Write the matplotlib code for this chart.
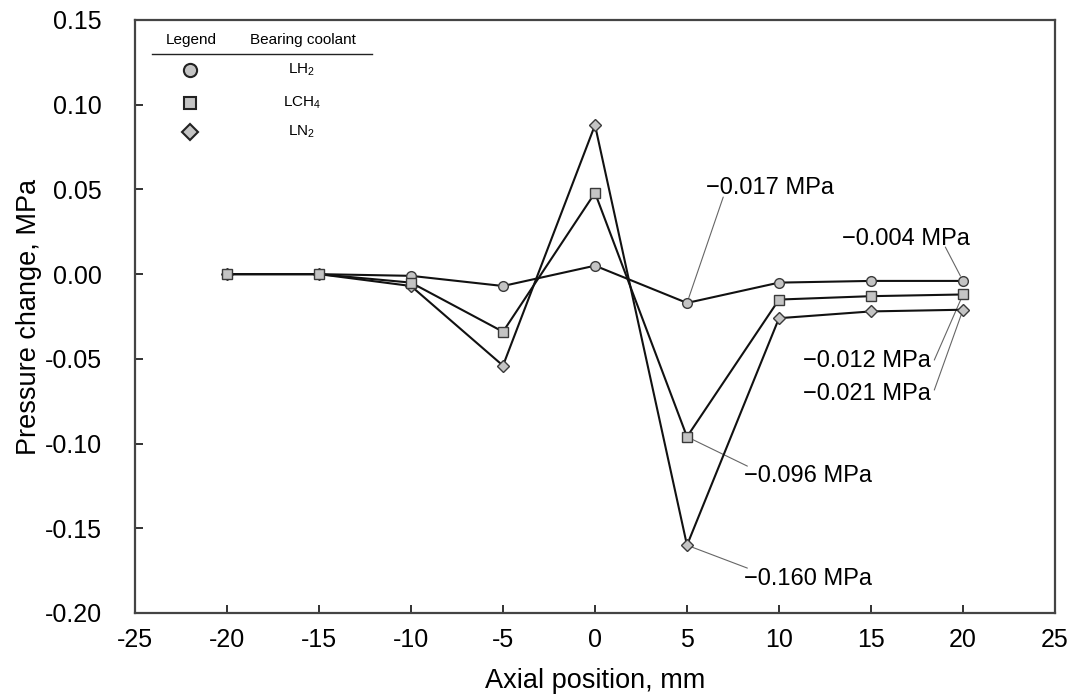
import matplotlib
matplotlib.use("Agg")
import matplotlib.pyplot as plt
from matplotlib.lines import Line2D

plt.rcParams['font.family'] = ['Liberation Sans', 'DejaVu Sans']
plt.rcParams['mathtext.fontset'] = 'custom'
plt.rcParams['mathtext.rm'] = 'Liberation Sans'
plt.rcParams['axes.unicode_minus'] = False

# Axial positions (mm) and pressure change (MPa) per bearing coolant
axial_mm = [-20, -15, -10, -5, 0, 5, 10, 15, 20]
lh2 = [0.000, 0.000, -0.001, -0.007, 0.005, -0.017, -0.005, -0.004, -0.004]
lch4 = [0.000, 0.000, -0.005, -0.034, 0.048, -0.096, -0.015, -0.013, -0.012]
ln2 = [0.000, 0.000, -0.007, -0.054, 0.088, -0.160, -0.026, -0.022, -0.021]

coolant_labels = [r'LH$_\mathregular{2}$', r'LCH$_\mathregular{4}$', r'LN$_\mathregular{2}$']
x_ticks = [-25, -20, -15, -10, -5, 0, 5, 10, 15, 20, 25]
y_ticks = [-0.20, -0.15, -0.10, -0.05, 0.00, 0.05, 0.10, 0.15]

face = '#c4c4c4'
edge = '#3a3a3a'

fig = plt.figure(figsize=(10.75, 7.0), dpi=100)
ax = fig.add_axes([135 / 1075, 87 / 700, 920 / 1075, 593 / 700])

series = [
    (ln2, 'D', 5.8),
    (lh2, 'o', 7.0),
    (lch4, 's', 7.0),
]
for vals, mk, ms in series:
    ax.plot(axial_mm, vals, color='#111111', lw=1.5, marker=mk, ms=ms,
            mfc=face, mec=edge, mew=1.0, zorder=3)

ax.set_xlim(-25, 25)
ax.set_ylim(-0.20, 0.15)
ax.set_xticks(x_ticks)
ax.set_xticklabels([f'{v:d}' for v in x_ticks])
ax.set_yticks(y_ticks)
ax.set_yticklabels([f'{v:.2f}'.replace('-0.00', '0.00') for v in y_ticks])
ax.tick_params(axis='both', direction='in', length=6, width=1.3,
               labelsize=18, color='#222222')
ax.tick_params(axis='y', pad=24)
ax.tick_params(axis='x', pad=11)
for sp in ax.spines.values():
    sp.set_color('#444444')
    sp.set_linewidth(1.6)

ax.set_xlabel('Axial position, mm', fontsize=19.5, labelpad=11)
ax.set_ylabel('Pressure change, MPa', fontsize=19.5, labelpad=2)

# Value callouts with thin leader lines to the marked points
i5 = axial_mm.index(5)
i20 = axial_mm.index(20)
callouts = [
    # (x, y, label position, leader start)
    (axial_mm[i5], lh2[i5], (9.53, 0.0510), (6.97, 0.0455)),
    (axial_mm[i20], lh2[i20], (16.90, 0.0210), (19.04, 0.0160)),
    (axial_mm[i20], lch4[i20], (14.80, -0.0515), (18.44, -0.0507)),
    (axial_mm[i20], ln2[i20], (14.80, -0.0705), (18.44, -0.0684)),
    (axial_mm[i5], lch4[i5], (11.55, -0.1190), (8.28, -0.1133)),
    (axial_mm[i5], ln2[i5], (11.55, -0.1798), (8.28, -0.1735)),
]
for x, y, (tx, ty), (sx, sy) in callouts:
    ax.text(tx, ty, f'\u2212{abs(y):.3f} MPa', fontsize=17, ha='center',
            va='center', zorder=5)
    ax.annotate('', xy=(x, y), xytext=(sx, sy), xycoords='data',
                textcoords='data',
                arrowprops=dict(arrowstyle='-', color='#666666', lw=0.8,
                                shrinkA=0, shrinkB=4), zorder=2)

# Legend table in the upper-left corner
tr = ax.transAxes
ax.text(0.0609, 0.9663, 'Legend', transform=tr, fontsize=11,
        ha='center', va='center')
ax.text(0.1820, 0.9663, 'Bearing coolant', transform=tr, fontsize=11,
        ha='center', va='center')
ax.add_line(Line2D([0.0185, 0.2576], [0.9422, 0.9422], transform=tr,
                   color='#222222', lw=1.0))
row_y = [0.9157, 0.8600, 0.8111]
legend_markers = [('o', 9.5), ('s', 9.0), ('D', 7.8)]
for (mk, ms), label, yy in zip(legend_markers, coolant_labels, row_y):
    ax.add_line(Line2D([0.0598], [yy], transform=tr, marker=mk, ms=ms,
                       mfc=face, mec='#222222', mew=1.5, ls='none'))
    ax.text(0.1815, yy, label, transform=tr, fontsize=11,
            ha='center', va='center')

fig.savefig('out.png', dpi=100)
